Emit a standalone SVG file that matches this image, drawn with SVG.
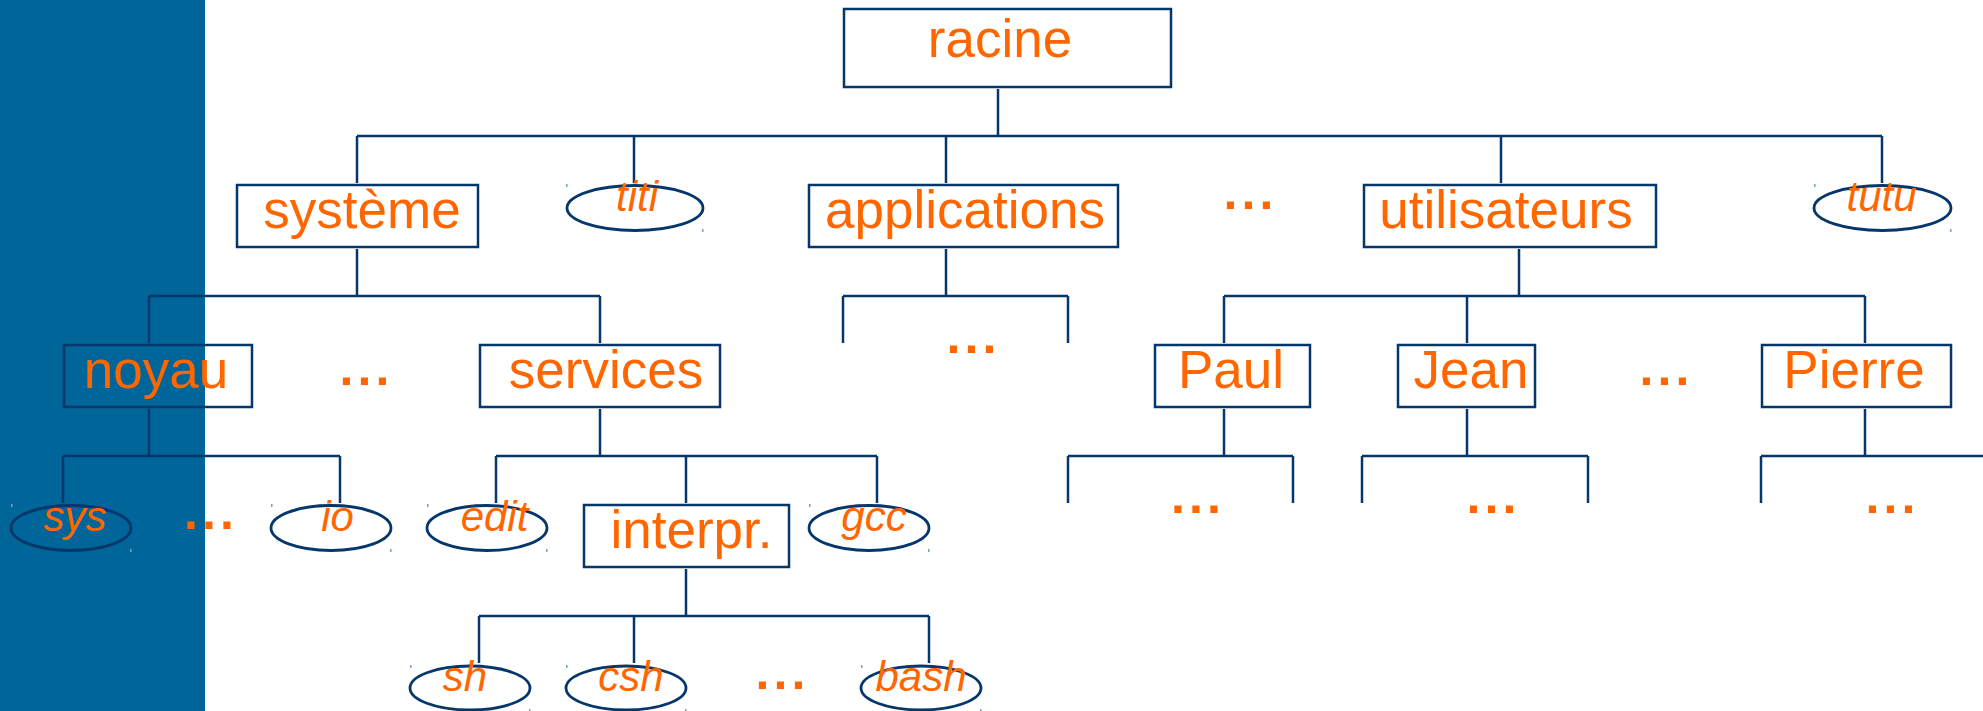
<svg xmlns="http://www.w3.org/2000/svg" width="1983" height="711" viewBox="0 0 1983 711">
  <style>
    .box { fill: none; stroke: #06376a; stroke-width: 2.5; }
    .leaf { fill: none; stroke: #06376a; stroke-width: 2.8; }
    .wire { fill: none; stroke: #06376a; stroke-width: 2.5; }
    .lbl { font-family: "Liberation Sans", Arial, sans-serif; font-size: 53px; fill: #ff6600; text-anchor: middle; }
    .ital { font-family: "Liberation Sans", Arial, sans-serif; font-size: 42px; font-style: italic; fill: #ff6600; text-anchor: middle; }
    .more { font-family: "Liberation Sans", Arial, sans-serif; font-size: 50px; font-weight: bold; letter-spacing: 4.1px; fill: #ff6600; }
    .tick { fill: #7f9cbd; }
  </style>

  <!-- side band -->
  <rect x="0" y="0" width="205" height="711" fill="#006699"/>

  <!-- connectors -->
  <g id="connectors">
    <!-- racine -> level 1 -->
    <line class="wire" x1="998" y1="89" x2="998" y2="136"/>
    <line class="wire" x1="357" y1="136" x2="1882" y2="136"/>
    <line class="wire" x1="357" y1="136" x2="357" y2="183"/>
    <line class="wire" x1="634" y1="136" x2="634" y2="183"/>
    <line class="wire" x1="946" y1="136" x2="946" y2="183"/>
    <line class="wire" x1="1501" y1="136" x2="1501" y2="183"/>
    <line class="wire" x1="1882" y1="136" x2="1882" y2="183"/>

    <!-- système -> level 2 -->
    <line class="wire" x1="357" y1="249" x2="357" y2="296"/>
    <line class="wire" x1="149" y1="296" x2="600" y2="296"/>
    <line class="wire" x1="149" y1="296" x2="149" y2="343"/>
    <line class="wire" x1="600" y1="296" x2="600" y2="343"/>

    <!-- applications -> level 2 -->
    <line class="wire" x1="946" y1="249" x2="946" y2="296"/>
    <line class="wire" x1="843" y1="296" x2="1068" y2="296"/>
    <line class="wire" x1="843" y1="296" x2="843" y2="343"/>
    <line class="wire" x1="1068" y1="296" x2="1068" y2="343"/>

    <!-- utilisateurs -> level 2 -->
    <line class="wire" x1="1519" y1="249" x2="1519" y2="296"/>
    <line class="wire" x1="1224" y1="296" x2="1865" y2="296"/>
    <line class="wire" x1="1224" y1="296" x2="1224" y2="343"/>
    <line class="wire" x1="1467" y1="296" x2="1467" y2="343"/>
    <line class="wire" x1="1865" y1="296" x2="1865" y2="343"/>

    <!-- noyau -> level 3 -->
    <line class="wire" x1="149" y1="409" x2="149" y2="456"/>
    <line class="wire" x1="63" y1="456" x2="340" y2="456"/>
    <line class="wire" x1="63" y1="456" x2="63" y2="503"/>
    <line class="wire" x1="340" y1="456" x2="340" y2="503"/>

    <!-- services -> level 3 -->
    <line class="wire" x1="600" y1="409" x2="600" y2="456"/>
    <line class="wire" x1="496" y1="456" x2="877" y2="456"/>
    <line class="wire" x1="496" y1="456" x2="496" y2="503"/>
    <line class="wire" x1="686" y1="456" x2="686" y2="503"/>
    <line class="wire" x1="877" y1="456" x2="877" y2="503"/>

    <!-- Paul -> level 3 -->
    <line class="wire" x1="1224" y1="409" x2="1224" y2="456"/>
    <line class="wire" x1="1068" y1="456" x2="1293" y2="456"/>
    <line class="wire" x1="1068" y1="456" x2="1068" y2="503"/>
    <line class="wire" x1="1293" y1="456" x2="1293" y2="503"/>

    <!-- Jean -> level 3 -->
    <line class="wire" x1="1467" y1="409" x2="1467" y2="456"/>
    <line class="wire" x1="1362" y1="456" x2="1588" y2="456"/>
    <line class="wire" x1="1362" y1="456" x2="1362" y2="503"/>
    <line class="wire" x1="1588" y1="456" x2="1588" y2="503"/>

    <!-- Pierre -> level 3 -->
    <line class="wire" x1="1865" y1="409" x2="1865" y2="456"/>
    <line class="wire" x1="1761" y1="456" x2="1990" y2="456"/>
    <line class="wire" x1="1761" y1="456" x2="1761" y2="503"/>

    <!-- interpr. -> level 4 -->
    <line class="wire" x1="686" y1="569" x2="686" y2="616"/>
    <line class="wire" x1="479" y1="616" x2="929" y2="616"/>
    <line class="wire" x1="479" y1="616" x2="479" y2="663"/>
    <line class="wire" x1="634" y1="616" x2="634" y2="663"/>
    <line class="wire" x1="929" y1="616" x2="929" y2="663"/>
  </g>

  <!-- level 0 -->
  <g id="racine">
    <rect class="box" x="844" y="9" width="327" height="78"/>
    <text class="lbl" x="1000" y="57">racine</text>
  </g>

  <!-- level 1 -->
  <g id="systeme">
    <rect class="box" x="237" y="185" width="241" height="62"/>
    <text class="lbl" x="362" y="228">système</text>
  </g>
  <g id="titi">
    <ellipse class="leaf" cx="635" cy="208" rx="68" ry="22.5"/>
    <rect class="tick" x="566" y="184" width="1.5" height="3"/>
    <rect class="tick" x="702" y="229" width="1.5" height="3"/>
    <text class="ital" x="637" y="211">titi</text>
  </g>
  <g id="applications">
    <rect class="box" x="809" y="185" width="309" height="62"/>
    <text class="lbl" x="965" y="228">applications</text>
  </g>
  <g id="more-level1">
    <text class="more" x="1223.5" y="209">...</text>
  </g>
  <g id="utilisateurs">
    <rect class="box" x="1364" y="185" width="292" height="62"/>
    <text class="lbl" x="1506" y="228">utilisateurs</text>
  </g>
  <g id="tutu">
    <ellipse class="leaf" cx="1882.5" cy="208" rx="68.5" ry="22.5"/>
    <rect class="tick" x="1814" y="184" width="1.5" height="3"/>
    <rect class="tick" x="1950" y="229" width="1.5" height="3"/>
    <text class="ital" x="1881.5" y="211">tutu</text>
  </g>

  <!-- level 2 -->
  <g id="noyau">
    <rect class="box" x="64" y="345" width="188" height="62"/>
    <text class="lbl" x="156" y="388">noyau</text>
  </g>
  <g id="more-systeme">
    <text class="more" x="339.5" y="385">...</text>
  </g>
  <g id="services">
    <rect class="box" x="480" y="345" width="240" height="62"/>
    <text class="lbl" x="606" y="388">services</text>
  </g>
  <g id="more-applications">
    <text class="more" x="946.5" y="353">...</text>
  </g>
  <g id="paul">
    <rect class="box" x="1155" y="345" width="155" height="62"/>
    <text class="lbl" x="1231" y="388">Paul</text>
  </g>
  <g id="jean">
    <rect class="box" x="1398" y="345" width="137" height="62"/>
    <text class="lbl" x="1471" y="388">Jean</text>
  </g>
  <g id="more-utilisateurs">
    <text class="more" x="1639.5" y="385">...</text>
  </g>
  <g id="pierre">
    <rect class="box" x="1762" y="345" width="189" height="62"/>
    <text class="lbl" x="1854" y="388">Pierre</text>
  </g>

  <!-- level 3 -->
  <g id="sys">
    <ellipse class="leaf" cx="71" cy="528" rx="60" ry="22.5"/>
    <rect class="tick" x="11" y="504" width="1.5" height="3"/>
    <rect class="tick" x="130" y="549" width="1.5" height="3"/>
    <text class="ital" x="75" y="531">sys</text>
  </g>
  <g id="more-noyau">
    <text class="more" x="184" y="529">...</text>
  </g>
  <g id="io">
    <ellipse class="leaf" cx="331" cy="528" rx="60" ry="22.5"/>
    <rect class="tick" x="271" y="504" width="1.5" height="3"/>
    <rect class="tick" x="390" y="549" width="1.5" height="3"/>
    <text class="ital" x="337.5" y="531">io</text>
  </g>
  <g id="edit">
    <ellipse class="leaf" cx="487" cy="528" rx="60" ry="22.5"/>
    <rect class="tick" x="427" y="504" width="1.5" height="3"/>
    <rect class="tick" x="546" y="549" width="1.5" height="3"/>
    <text class="ital" x="494.5" y="531">edit</text>
  </g>
  <g id="interpr">
    <rect class="box" x="584" y="505" width="205" height="62"/>
    <text class="lbl" x="691.5" y="548">interpr.</text>
  </g>
  <g id="gcc">
    <ellipse class="leaf" cx="869" cy="528" rx="60" ry="22.5"/>
    <rect class="tick" x="809" y="504" width="1.5" height="3"/>
    <rect class="tick" x="928" y="549" width="1.5" height="3"/>
    <text class="ital" x="874" y="531">gcc</text>
  </g>
  <g id="more-paul">
    <text class="more" x="1171" y="513">...</text>
  </g>
  <g id="more-jean">
    <text class="more" x="1466.5" y="513">...</text>
  </g>
  <g id="more-pierre">
    <text class="more" x="1865.5" y="513">...</text>
  </g>

  <!-- level 4 -->
  <g id="sh">
    <ellipse class="leaf" cx="470" cy="688" rx="60" ry="22"/>
    <rect class="tick" x="410" y="665" width="1.5" height="3"/>
    <rect class="tick" x="529" y="709" width="1.5" height="2"/>
    <text class="ital" x="465" y="691">sh</text>
  </g>
  <g id="csh">
    <ellipse class="leaf" cx="626" cy="688" rx="60" ry="22"/>
    <rect class="tick" x="566" y="665" width="1.5" height="3"/>
    <rect class="tick" x="685" y="709" width="1.5" height="2"/>
    <text class="ital" x="631" y="691">csh</text>
  </g>
  <g id="more-interpr">
    <text class="more" x="755.5" y="689">...</text>
  </g>
  <g id="bash">
    <ellipse class="leaf" cx="921" cy="688" rx="60" ry="22"/>
    <rect class="tick" x="861" y="665" width="1.5" height="3"/>
    <rect class="tick" x="980" y="709" width="1.5" height="2"/>
    <text class="ital" x="921" y="691">bash</text>
  </g>
</svg>
